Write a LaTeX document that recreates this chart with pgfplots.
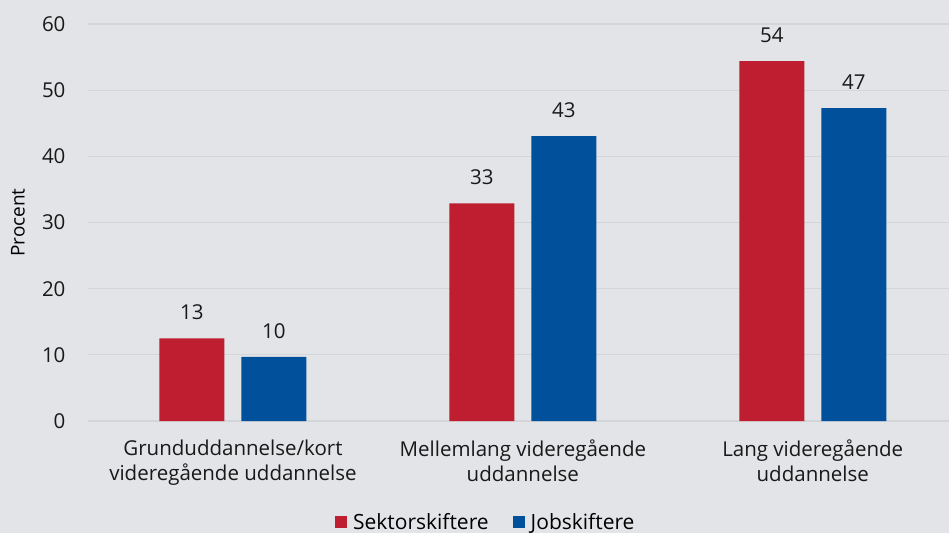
\documentclass[border=0pt]{standalone}
\usepackage{pgfplots}
\pgfplotsset{compat=1.18}
\usepackage{fontspec}
\setmainfont{Open Sans}
\definecolor{bg}{RGB}{227,228,231}
\definecolor{gridc}{RGB}{212,213,216}
\definecolor{redbar}{RGB}{190,30,48}
\definecolor{bluebar}{RGB}{0,80,155}
\begin{document}
\begin{tikzpicture}[x=1pt,y=1pt]
\useasboundingbox (0,0) rectangle (949,533);
\fill[bg] (0,0) rectangle (949,533);
\begin{axis}[
  at={(88pt,112pt)}, anchor=south west,
  scale only axis, width=861pt, height=397pt,
  xmin=-0.5, xmax=2.47, ymin=0, ymax=60,
  axis line style={draw=none},
  ymajorgrids, grid style={gridc, line width=1.2pt},
  ytick={0,10,...,60},
  xtick={0,1,2},
  xticklabels={{Grunduddannelse/kort\\videregående uddannelse},{Mellemlang videregående\\uddannelse},{Lang videregående\\uddannelse}},
  major tick length=0pt,
  tick label style={font=\fontsize{20.5}{25}\selectfont, text=black!90},
  /pgf/number format/assume math mode=true,
  xticklabel style={align=center, anchor=north, yshift=-15pt},
  yticklabel style={anchor=east, xshift=-19pt},
  ylabel={Procent},
  ylabel style={at={(axis description cs:-0.0813,0.5)}, anchor=center, font=\fontsize{19}{22}\selectfont},
  ybar, bar width=65pt,
  nodes near coords,
  nodes near coords style={font=\fontsize{20.5}{22}\selectfont, /pgf/number format/fixed, /pgf/number format/precision=0, anchor=south, yshift=15pt, text=black!90},
  legend style={at={(0.462,-0.254)}, anchor=center, draw=none, fill=none, legend columns=2, font=\fontsize{21}{22}\selectfont, /tikz/every even column/.append style={column sep=22pt}, /tikz/every odd column/.append style={column sep=4pt}},
  legend image code/.code={\fill[#1] (0pt,-6pt) rectangle (12pt,6pt);},
]
\addplot[fill=redbar, draw=none, bar shift=-41pt] coordinates {(0,12.5) (1,32.9) (2,54.4)};
\addplot[fill=bluebar, draw=none, bar shift=41pt] coordinates {(0,9.7) (1,43.05) (2,47.3)};
\legend{Sektorskiftere, Jobskiftere}
\end{axis}
\end{tikzpicture}
\end{document}
